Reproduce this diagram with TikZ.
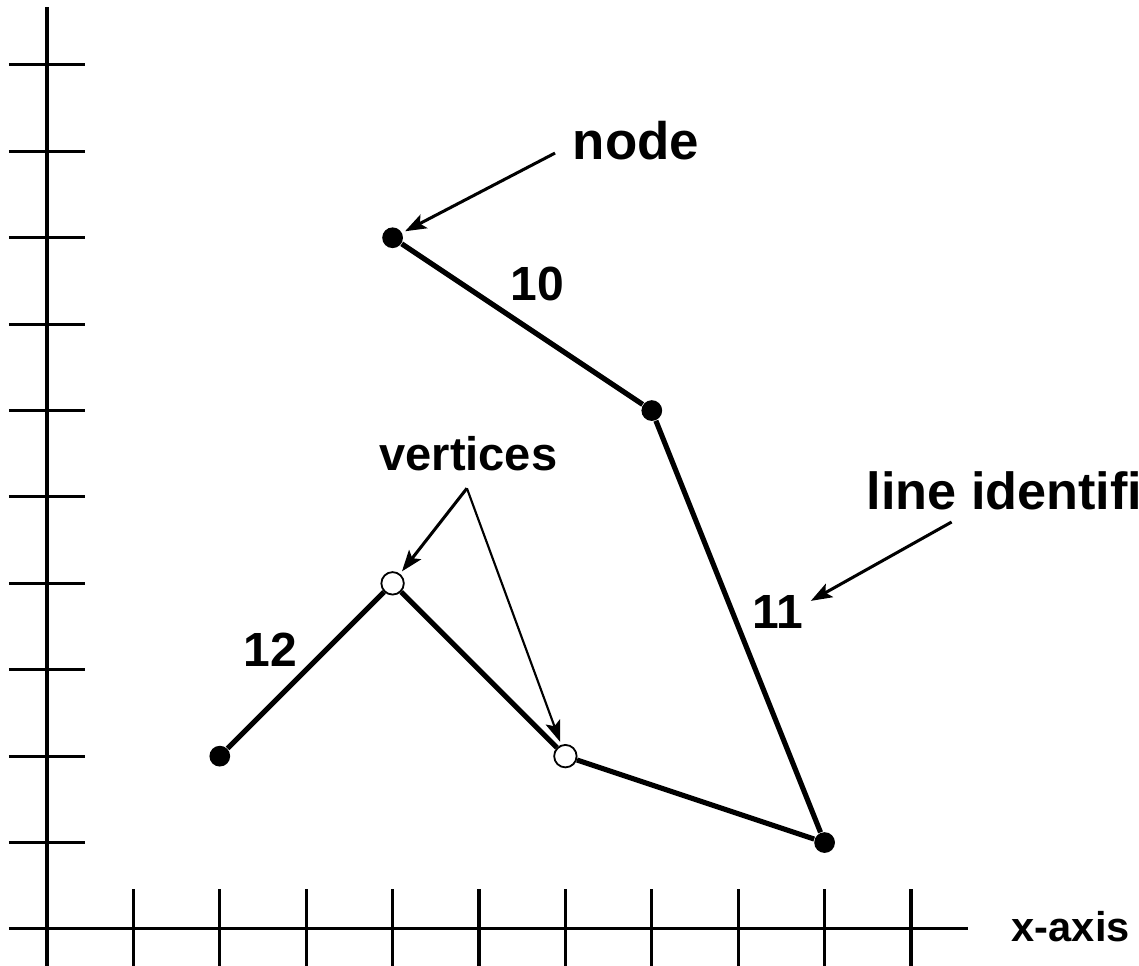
\documentclass[tikz,border=0pt]{standalone}
\usepackage{fontspec}
\setmainfont{Liberation Sans}
\usepackage{tikz}
\usetikzlibrary{arrows.meta}

\tikzset{
    dot/.style={circle,fill=black,inner sep=0pt,minimum size=0.24cm},
    vertex/.style={circle,draw=black,fill=white,line width=0.6pt,inner sep=0pt,minimum size=0.26cm},
    lbl/.style={anchor=base west,inner sep=0pt},
    pointer/.style={line width=1pt,-{Stealth[length=7pt,width=5pt,inset=1.5pt]},shorten >=1pt}
}

\begin{document}
\begin{tikzpicture}
    \clip (-0.544,-0.428) rectangle (12.639,10.752);
    % axes and ticks
    \draw[line width=1pt] (0,-0.43) -- (0,10.67);
    \draw[line width=1pt] (-0.44,0) -- (10.66,0);
    \foreach \k in {1,...,10} {
        \draw[line width=1pt] (-0.44,\k) -- (0.44,\k);
        \draw[line width=1pt] (\k,-0.43) -- (\k,0.46);
    }
    % nodes and vertices
    \node[dot] (n1) at (4,8) {};
    \node[dot] (n2) at (7,6) {};
    \node[dot] (n3) at (9,1) {};
    \node[dot] (n4) at (2,2) {};
    \node[vertex] (v1) at (4,4) {};
    \node[vertex] (v2) at (6,2) {};
    \draw[line width=1.7pt] (n1) -- (n2) -- (n3);
    \draw[line width=1.7pt] (n4) -- (v1) -- (v2) -- (n3);
    % labels
    \node[lbl,font=\fontsize{17.4}{20}\bfseries] (nodelbl) at (6.08,8.90) {node};
    \node[lbl,font=\fontsize{15.8}{19}\bfseries] (id10) at (5.36,7.27) {10};
    \node[lbl,font=\fontsize{15.8}{19}\bfseries] (id11) at (8.16,3.48) {11};
    \node[lbl,font=\fontsize{15.8}{19}\bfseries] (id12) at (2.27,3.04) {12};
    \node[lbl,font=\fontsize{15.5}{19}\bfseries] (vertlbl) at (3.84,5.31) {vertices};
    \node[lbl,font=\fontsize{17.2}{20}\bfseries] (idlbl) at (9.48,4.85) {line identifier};
    \node[lbl,font=\fontsize{13.7}{16}\bfseries] (xlbl) at (11.16,-0.14) {x-axis};
    % pointers
    \coordinate (nodefrom) at (5.88,8.98);
    \coordinate (vertfrom) at (4.86,5.10);
    \coordinate (idfrom) at (10.47,4.71);
    \coordinate (idto) at (8.81,3.78);
    \draw[pointer] (nodefrom) -- (n1);
    \draw[pointer] (vertfrom) -- (v1);
    \draw[pointer,line width=0.7pt] (vertfrom) -- (v2);
    \draw[pointer] (idfrom) -- (idto);
\end{tikzpicture}
\end{document}
